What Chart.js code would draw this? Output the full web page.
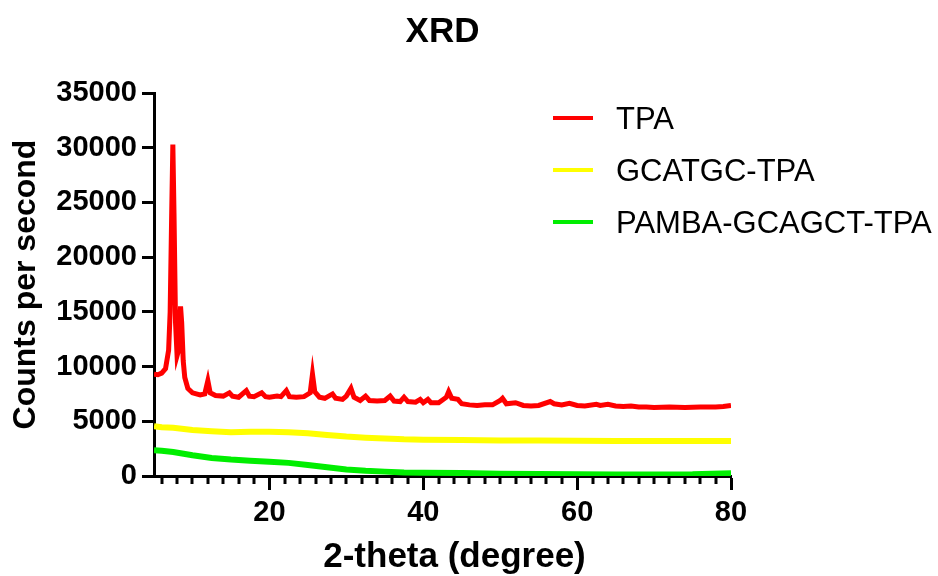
<!DOCTYPE html>
<html>
<head>
<meta charset="utf-8">
<script src="https://cdn.jsdelivr.net/npm/chart.js@4.4.1/dist/chart.umd.min.js"></script>
<style>
  html, body { margin: 0; padding: 0; background: #fff; }
  #wrap { width: 938px; height: 576px; }
</style>
</head>
<body>
<div id="wrap"><canvas id="xrd" width="938" height="576"></canvas></div>
<script>
// TPA
const tpaX = [5.0, 5.5, 6.0, 6.5, 6.9, 7.1, 7.3, 7.45, 7.6, 7.8, 8.0, 8.2, 8.45, 8.6, 8.8, 9.0, 9.4, 10.0, 10.5, 11.0,
  11.6, 12.0, 12.3, 13.0, 14.0, 14.8, 15.2, 16.0, 17.0, 17.4, 18.0, 19.0, 19.5, 20.0, 21.0, 21.5, 22.2, 22.6, 23.5, 24.5,
  25.3, 25.6, 25.9, 26.5, 27.2, 28.2, 28.6, 29.5, 30.0, 30.6, 31.0, 31.8, 32.5, 33.0, 34.0, 35.0, 35.7, 36.2, 37.0, 37.5,
  38.0, 39.0, 39.6, 40.0, 40.6, 41.0, 42.0, 43.0, 43.3, 43.7, 44.5, 45.0, 46.0, 47.0, 48.0, 49.0, 50.0, 50.3, 50.8, 52.0,
  53.0, 54.0, 55.0, 56.5, 57.0, 58.0, 59.0, 60.0, 61.0, 62.5, 63.0, 64.0, 65.0, 66.0, 67.0, 68.0, 69.0, 70.0, 72.0, 74.0,
  76.0, 78.0, 79.0, 80.0];
const tpaY = [9300, 9250, 9400, 9800, 11500, 15000, 24000, 30300, 24000, 14000, 11000, 11500, 15500, 14000, 10500, 9000, 8000, 7600, 7500, 7400,
  7500, 8700, 7600, 7350, 7300, 7600, 7300, 7200, 7800, 7300, 7250, 7600, 7250, 7200, 7300, 7250, 7800, 7250, 7200, 7250,
  7600, 9300, 7700, 7200, 7100, 7500, 7100, 7000, 7300, 8000, 7200, 6900, 7300, 6900, 6850, 6900, 7300, 6850, 6800, 7200,
  6800, 6750, 7000, 6700, 7000, 6700, 6700, 7200, 7700, 7100, 7000, 6600, 6500, 6450, 6500, 6500, 6900, 7100, 6600, 6700,
  6450, 6400, 6450, 6800, 6600, 6500, 6650, 6450, 6400, 6550, 6450, 6550, 6400, 6350, 6400, 6300, 6300, 6250, 6300, 6250,
  6300, 6300, 6350, 6450];

// GCATGC-TPA
const gcX = [5, 6, 7.5, 10, 12.5, 15, 17.5, 20, 22.5, 25, 27.5, 30, 32.5, 35, 37.5, 40, 45, 50, 55, 60, 65, 70, 75, 80];
const gcY = [4550, 4450, 4400, 4200, 4100, 4000, 4050, 4050, 4000, 3900, 3750, 3600, 3500, 3420, 3350, 3320, 3300, 3250, 3250, 3220, 3200, 3200, 3200, 3200];

// PAMBA-GCAGCT-TPA
const pamX = [5, 6, 7.5, 10, 12.5, 15, 17.5, 20, 22.5, 25, 27.5, 30, 32.5, 35, 37.5, 40, 45, 50, 55, 60, 65, 70, 75, 80];
const pamY = [2350, 2300, 2200, 1900, 1650, 1500, 1400, 1300, 1200, 1000, 800, 600, 480, 400, 330, 300, 280, 200, 180, 150, 130, 130, 150, 250];

const seriesNames = ['TPA', 'GCATGC-TPA', 'PAMBA-GCAGCT-TPA'];
const seriesColors = ['#ff0000', '#ffff00', '#00ee00'];
const xMajorTicks = [20, 40, 60, 80];
const xMinorStep = 2;
const yTickStep = 5000;

const FONT = '"Liberation Sans", Arial, Helvetica, sans-serif';

function pts(xs, ys) {
  return xs.map((x, i) => ({ x: x, y: ys[i] }));
}

// заголовок, подписи осей, легенда, мелкие засечки
const decor = {
  id: 'decor',
  afterDraw(chart) {
    const ctx = chart.ctx;
    const a = chart.chartArea;
    const xs = chart.scales.x;
    ctx.save();
    ctx.fillStyle = '#000';
    ctx.textAlign = 'center';
    ctx.textBaseline = 'middle';
    ctx.font = 'bold 35px ' + FONT;
    ctx.fillText('XRD', (a.left + a.right) / 2, 32);

    ctx.font = 'bold 35px ' + FONT;
    ctx.fillText('2-theta (degree)', (a.left + a.right) / 2 + 12, 557);
    ctx.font = 'bold 32px ' + FONT;
    ctx.save();
    ctx.translate(26, (a.top + a.bottom) / 2);
    ctx.rotate(-Math.PI / 2);
    ctx.fillText('Counts per second', 0, 0);
    ctx.restore();

    // мелкие засечки оси X
    ctx.strokeStyle = '#000';
    ctx.lineWidth = 3;
    for (let v = xs.min + 1; v < xs.max; v += xMinorStep) {
      if (xMajorTicks.includes(v)) continue;
      const px = Math.round(xs.getPixelForValue(v));
      ctx.beginPath();
      ctx.moveTo(px, a.bottom);
      ctx.lineTo(px, a.bottom + 8);
      ctx.stroke();
    }

    // легенда
    ctx.textAlign = 'left';
    ctx.font = '31px ' + FONT;
    chart.data.datasets.forEach((ds, i) => {
      const y = 118 + i * 52;
      ctx.strokeStyle = ds.borderColor;
      ctx.lineWidth = 4;
      ctx.beginPath();
      ctx.moveTo(553, y);
      ctx.lineTo(593, y);
      ctx.stroke();
      ctx.fillStyle = '#000';
      ctx.fillText(ds.label, 616, y + 2);
    });
    ctx.restore();
  }
};

new Chart(document.getElementById('xrd'), {
  type: 'line',
  data: {
    datasets: [
      { label: seriesNames[0], data: pts(tpaX, tpaY), borderColor: seriesColors[0], borderWidth: 5 },
      { label: seriesNames[1], data: pts(gcX, gcY), borderColor: seriesColors[1], borderWidth: 6 },
      { label: seriesNames[2], data: pts(pamX, pamY), borderColor: seriesColors[2], borderWidth: 6 }
    ]
  },
  options: {
    responsive: false,
    animation: false,
    devicePixelRatio: 1,
    layout: { padding: { top: 93, right: 207, left: 0, bottom: 0 } },
    elements: { point: { radius: 0 }, line: { tension: 0 } },
    plugins: { legend: { display: false }, title: { display: false }, tooltip: { enabled: false } },
    scales: {
      x: {
        type: 'linear',
        min: 5,
        max: 80,
        afterBuildTicks(scale) { scale.ticks = xMajorTicks.map(v => ({ value: v })); },
        afterFit(scale) { scale.height = 100; },
        border: { display: true, color: '#000', width: 3 },
        grid: { drawOnChartArea: false, drawTicks: true, tickLength: 14, tickWidth: 3, tickColor: '#000' },
        ticks: { color: '#000', padding: 6, maxRotation: 0, font: { family: FONT, size: 29, weight: 'bold' } }
      },
      y: {
        min: 0,
        max: 35000,
        afterFit(scale) { scale.width = 154; },
        border: { display: true, color: '#000', width: 3 },
        grid: { drawOnChartArea: false, drawTicks: true, tickLength: 12, tickWidth: 3, tickColor: '#000' },
        ticks: {
          stepSize: yTickStep, color: '#000', padding: 5,
          font: { family: FONT, size: 29, weight: 'bold' },
          callback: v => String(v)
        }
      }
    }
  },
  plugins: [decor]
});
</script>
</body>
</html>
